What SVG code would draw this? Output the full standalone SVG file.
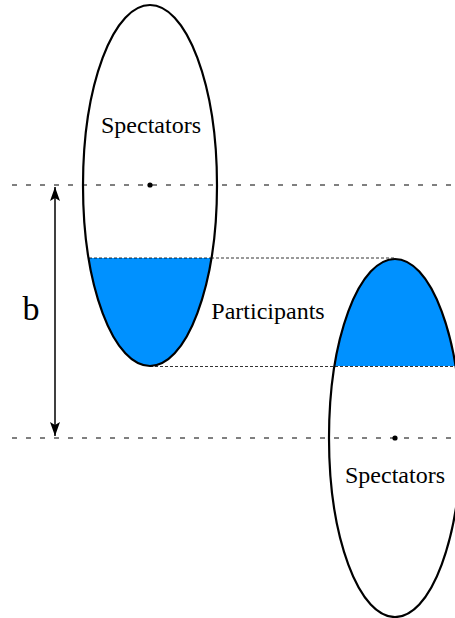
<svg xmlns="http://www.w3.org/2000/svg" width="455" height="618" viewBox="0 0 455 618">
<style>
.ell{fill:none;stroke:#000;stroke-width:2.2}
.fillb{fill:#0091ff;stroke:none}
.dash{stroke:#000;stroke-width:1;stroke-dasharray:5 9;fill:none}
.dot{stroke:#000;stroke-width:0.8;stroke-dasharray:3 2;fill:none}
.lbl{font-family:"Liberation Serif","Times New Roman",serif;font-size:24px;fill:#000}
</style>
<defs>
<clipPath id="cl"><rect x="0" y="258" width="455" height="200"/></clipPath>
<clipPath id="cr"><rect x="0" y="200" width="455" height="166"/></clipPath>
<marker id="ah" viewBox="0 0 14 10" refX="14" refY="5" markerWidth="14" markerHeight="10" markerUnits="userSpaceOnUse" orient="auto-start-reverse"><path d="M0,0 L14,5 L0,10 L3,5 z" fill="#000"/></marker>
</defs>
<g id="connectors">
<line class="dash" x1="12" y1="185" x2="455" y2="185"/>
<line class="dash" x1="12" y1="438" x2="455" y2="438"/>
<line class="dot" x1="211" y1="258" x2="395" y2="258"/>
<line class="dot" x1="150" y1="366.5" x2="455" y2="366.5"/>
<line x1="55" y1="187" x2="55" y2="436" stroke="#000" stroke-width="1.5" marker-start="url(#ah)" marker-end="url(#ah)"/>
</g>
<g id="left">
<ellipse class="fillb" cx="150" cy="185.5" rx="67" ry="180.5" clip-path="url(#cl)"/>
<line class="dot" x1="89" y1="258" x2="211" y2="258"/>
<ellipse class="ell" cx="150" cy="185.5" rx="67" ry="180.5"/>
<circle cx="150" cy="185" r="2.6" fill="#000"/>
<text class="lbl" x="151" y="133" text-anchor="middle">Spectators</text>
</g>
<g id="right">
<ellipse class="fillb" cx="395" cy="438" rx="66" ry="179" clip-path="url(#cr)"/>
<ellipse class="ell" cx="395" cy="438" rx="66" ry="179"/>
<circle cx="395" cy="438" r="2.6" fill="#000"/>
<text class="lbl" x="395" y="483" text-anchor="middle">Spectators</text>
</g>
<g id="participants">
<text class="lbl" x="268" y="319" text-anchor="middle">Participants</text>
</g>
<g id="b">
<text class="lbl" x="31" y="320" text-anchor="middle" style="font-size:34px">b</text>
</g>
</svg>
